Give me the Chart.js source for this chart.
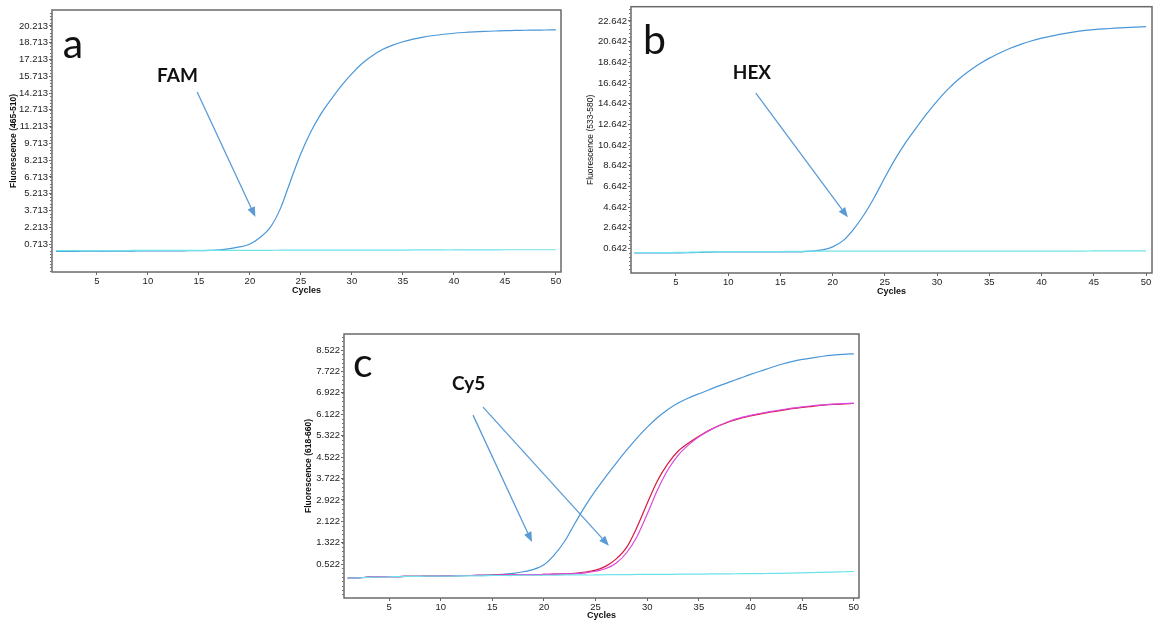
<!DOCTYPE html>
<html>
<head>
<meta charset="utf-8">
<script src="https://cdn.jsdelivr.net/npm/chart.js@4"></script>
<style>
  body { margin: 0; background: #fff; width: 1155px; height: 621px; overflow: hidden; }
  .panel { position: absolute; }
</style>
</head>
<body>
<div class="panel" style="left:0;top:0;width:575px;height:300px"><canvas id="chartA"></canvas></div>
<div class="panel" style="left:580px;top:0;width:575px;height:300px"><canvas id="chartB"></canvas></div>
<div class="panel" style="left:290px;top:325px;width:580px;height:296px"><canvas id="chartC"></canvas></div>
<script>
// DATA
const cycles = [1,2,3,4,5,6,7,8,9,10,11,12,13,14,15,16,17,18,19,20,21,22,23,24,25,
  26,27,28,29,30,31,32,33,34,35,36,37,38,39,40,41,42,43,44,45,46,47,48,49,50];
const xTicks = [5,10,15,20,25,30,35,40,45,50];

// panel a - FAM
const famCurve = [0.05,0.06,0.06,0.07,0.07,0.08,0.08,0.08,0.09,0.09,0.09,0.1,0.1,0.11,0.12,
  0.15,0.2,0.3,0.45,0.72,1.3,2.2,3.9,6.4,8.8,10.8,12.4,13.7,14.9,15.95,
  16.85,17.55,18.1,18.5,18.8,19.03,19.22,19.36,19.47,19.56,19.63,19.68,19.72,19.76,19.79,19.81,19.83,19.84,19.85,19.86];
const famNeg = [0.12,0.12,0.12,0.12,0.13,0.13,0.13,0.13,0.14,0.14,0.14,0.14,0.15,0.15,0.15,
  0.15,0.15,0.15,0.15,0.15,0.15,0.15,0.16,0.16,0.16,0.16,0.16,0.16,0.16,0.16,
  0.17,0.17,0.17,0.17,0.17,0.18,0.18,0.18,0.18,0.18,0.19,0.19,0.19,0.19,0.2,0.2,0.2,0.2,0.2,0.2];
const famTicks = [0.713,2.213,3.713,5.213,6.713,8.213,9.713,11.213,12.713,14.213,15.713,17.213,18.713,20.213];

// panel b - HEX
const hexCurve = [0.22,0.22,0.22,0.22,0.22,0.23,0.25,0.29,0.3,0.3,0.3,0.3,0.3,0.3,0.3,
  0.3,0.32,0.38,0.5,0.8,1.4,2.5,3.9,5.6,7.5,9.3,10.9,12.3,13.65,14.9,
  16.0,16.95,17.75,18.45,19.05,19.55,20.0,20.38,20.7,20.98,21.2,21.4,21.56,21.7,21.8,21.88,21.94,21.99,22.04,22.1];
const hexNeg = [0.25,0.25,0.25,0.25,0.26,0.27,0.29,0.32,0.34,0.35,0.35,0.35,0.35,0.35,0.35,
  0.36,0.37,0.38,0.38,0.38,0.38,0.38,0.38,0.38,0.38,0.38,0.38,0.38,0.38,0.38,
  0.38,0.38,0.38,0.38,0.38,0.38,0.38,0.38,0.38,0.38,0.39,0.39,0.39,0.39,0.4,0.4,0.4,0.4,0.4,0.4];
const hexTicks = [0.642,2.642,4.642,6.642,8.642,10.642,12.642,14.642,16.642,18.642,20.642,22.642];

// panel c - Cy5
const cy5Blue = [0.0,0.01,0.04,0.05,0.06,0.06,0.07,0.07,0.08,0.08,0.09,0.09,0.1,0.11,0.12,
  0.14,0.18,0.24,0.33,0.5,0.87,1.38,2.05,2.7,3.28,3.8,4.3,4.78,5.23,5.64,
  6.0,6.3,6.54,6.73,6.89,7.04,7.19,7.33,7.47,7.61,7.74,7.87,7.99,8.09,8.17,8.23,8.29,8.33,8.36,8.38];
const cy5Red = [0.0,0.01,0.04,0.05,0.06,0.06,0.07,0.07,0.08,0.08,0.09,0.1,0.1,0.11,0.11,
  0.12,0.12,0.13,0.13,0.14,0.15,0.16,0.18,0.23,0.3,0.45,0.72,1.15,1.9,2.8,
  3.65,4.28,4.75,5.05,5.3,5.52,5.7,5.85,5.97,6.06,6.14,6.21,6.27,6.33,6.38,6.42,6.46,6.49,6.51,6.53];
const cy5Magenta = [0.0,0.01,0.04,0.05,0.06,0.06,0.07,0.07,0.08,0.08,0.09,0.1,0.1,0.11,0.11,
  0.12,0.12,0.13,0.13,0.14,0.15,0.16,0.17,0.2,0.26,0.36,0.57,0.95,1.55,2.4,
  3.3,4.05,4.6,4.98,5.28,5.52,5.71,5.87,5.99,6.08,6.16,6.23,6.29,6.35,6.4,6.44,6.47,6.5,6.52,6.53];
const cy5Neg = [0.0,0.01,0.03,0.04,0.05,0.06,0.07,0.07,0.08,0.08,0.08,0.09,0.09,0.09,0.1,
  0.1,0.1,0.11,0.11,0.11,0.11,0.12,0.12,0.12,0.12,0.13,0.13,0.13,0.14,0.14,
  0.14,0.14,0.15,0.15,0.15,0.16,0.16,0.16,0.17,0.17,0.17,0.18,0.18,0.19,0.2,0.21,0.22,0.23,0.24,0.25];
const cy5Ticks = [0.522,1.322,2.122,2.922,3.722,4.522,5.322,6.122,6.922,7.722,8.522];

// COLOURS
const blue = '#4a97d8';
const cyan = '#6fe3ea';
const red = '#d8183c';
const magenta = '#dc48dc';
const arrowColor = '#5b9bd5';
const frameColor = '#6a6a6a';

const pts = arr => arr.map((v, i) => ({ x: cycles[i], y: v }));

// frame, minor ticks, letter, dye label and arrows
const decor = {
  id: 'decor',
  afterDraw(chart, args, opts) {
    const { ctx, chartArea: a, scales: { x, y } } = chart;
    ctx.save();
    // frame
    ctx.strokeStyle = frameColor;
    ctx.lineWidth = 1.5;
    ctx.strokeRect(a.left, a.top, a.right - a.left, a.bottom - a.top);
    // minor ticks on y
    ctx.strokeStyle = '#777';
    ctx.lineWidth = 1;
    const step = opts.step / 5;
    for (let v = opts.first - 2 * opts.step; v <= y.max; v += step) {
      if (v < y.min) continue;
      const py = Math.round(y.getPixelForValue(v)) + 0.5;
      ctx.beginPath();
      ctx.moveTo(a.left - 2, py);
      ctx.lineTo(a.left, py);
      ctx.stroke();
    }
    // panel letter
    ctx.fillStyle = '#111';
    ctx.textBaseline = 'alphabetic';
    ctx.font = '41px Lato';
    ctx.fillText(opts.letter.text, x.getPixelForValue(opts.letter.x), y.getPixelForValue(opts.letter.y));
    // dye name
    ctx.font = 'bold 19px Lato';
    ctx.fillText(opts.dye.text, x.getPixelForValue(opts.dye.x), y.getPixelForValue(opts.dye.y));
    // arrows
    ctx.strokeStyle = arrowColor;
    ctx.fillStyle = arrowColor;
    ctx.lineWidth = 1.3;
    opts.arrows.forEach(([x1, y1, x2, y2]) => {
      const px1 = x.getPixelForValue(x1), py1 = y.getPixelForValue(y1);
      const px2 = x.getPixelForValue(x2), py2 = y.getPixelForValue(y2);
      const ang = Math.atan2(py2 - py1, px2 - px1);
      const len = 10, half = 4;
      const bx = px2 - len * Math.cos(ang), by = py2 - len * Math.sin(ang);
      ctx.beginPath();
      ctx.moveTo(px1, py1);
      ctx.lineTo(bx, by);
      ctx.stroke();
      ctx.beginPath();
      ctx.moveTo(px2, py2);
      ctx.lineTo(bx + half * Math.sin(ang), by - half * Math.cos(ang));
      ctx.lineTo(bx - half * Math.sin(ang), by + half * Math.cos(ang));
      ctx.closePath();
      ctx.fill();
    });
    ctx.restore();
  }
};

function line(data, color) {
  return {
    data: pts(data),
    borderColor: color,
    borderWidth: 1.2,
    pointRadius: 0,
    fill: false,
    tension: 0.3
  };
}

function makeChart(id, cfg) {
  const tickFont = { family: 'Liberation Sans, Arial', size: 9.5 };
  return new Chart(document.getElementById(id), {
    type: 'line',
    data: { datasets: cfg.datasets },
    plugins: [decor],
    options: {
      responsive: true,
      maintainAspectRatio: false,
      animation: false,
      events: [],
      layout: { padding: cfg.padding },
      plugins: {
        legend: { display: false },
        tooltip: { enabled: false },
        decor: cfg.decor
      },
      scales: {
        x: {
          type: 'linear',
          min: cfg.xMin, max: cfg.xMax,
          afterBuildTicks: s => { s.ticks = xTicks.map(v => ({ value: v })); },
          afterFit: s => { s.height = cfg.xHeight; },
          ticks: { font: tickFont, color: '#222', padding: 1, maxRotation: 0, autoSkip: false },
          grid: { drawOnChartArea: false, tickLength: 3, color: '#666' },
          border: { display: false },
          title: {
            display: true, text: 'Cycles', color: '#111',
            font: { family: 'Liberation Sans, Arial', size: 9, weight: 'bold' },
            padding: { top: 0, bottom: cfg.xTitlePad }
          }
        },
        y: {
          min: cfg.yMin, max: cfg.yMax,
          afterBuildTicks: s => { s.ticks = cfg.yTicks.map(v => ({ value: v })); },
          afterFit: s => { s.width = cfg.yWidth; },
          ticks: { font: tickFont, color: '#222', padding: 1, autoSkip: false, callback: v => v.toFixed(3) },
          grid: { drawOnChartArea: false, tickLength: 3, color: '#666' },
          border: { display: false },
          title: {
            display: true, text: cfg.yTitle, color: '#111',
            font: { family: 'Liberation Sans, Arial', size: 8.5, weight: cfg.yTitleWeight },
            padding: { top: cfg.yTitlePad, bottom: 0 }
          }
        }
      }
    }
  });
}

makeChart('chartA', {
  datasets: [line(famNeg, cyan), line(famCurve, blue)],
  padding: { top: 10, right: 14, left: 0, bottom: 0 },
  xMin: 0.6, xMax: 50.5, yMin: -1.79, yMax: 21.64,
  xHeight: 28, yWidth: 52, xTitlePad: 4, yTitlePad: 9,
  yTicks: famTicks, yTitle: 'Fluorescence (465-510)', yTitleWeight: 'bold',
  decor: {
    first: famTicks[0], step: 1.5,
    letter: { text: 'a', x: 1.66, y: 17.35 },
    dye: { text: 'FAM', x: 10.9, y: 15.2 },
    arrows: [[14.83, 14.31, 20.54, 3.13]]
  }
});

makeChart('chartB', {
  datasets: [line(hexNeg, cyan), line(hexCurve, blue)],
  padding: { top: 5, right: 3, left: 0, bottom: 0 },
  xMin: 0.7, xMax: 50.57, yMin: -1.73, yMax: 24.02,
  xHeight: 27, yWidth: 51, xTitlePad: 3, yTitlePad: 6,
  yTicks: hexTicks, yTitle: 'Fluorescence (533-580)', yTitleWeight: 'normal',
  decor: {
    first: hexTicks[0], step: 2,
    letter: { text: 'b', x: 1.84, y: 19.4 },
    dye: { text: 'HEX', x: 10.44, y: 17.0 },
    arrows: [[12.65, 15.66, 21.46, 3.65]]
  }
});

makeChart('chartC', {
  datasets: [line(cy5Neg, cyan), line(cy5Magenta, magenta), line(cy5Red, red), line(cy5Blue, blue)],
  padding: { top: 9, right: 11, left: 0, bottom: 0 },
  xMin: 0.64, xMax: 50.5, yMin: -0.74, yMax: 9.12,
  xHeight: 23, yWidth: 54, xTitlePad: 0, yTitlePad: 14,
  yTicks: cy5Ticks, yTitle: 'Fluorescence (618-660)', yTitleWeight: 'bold',
  decor: {
    first: cy5Ticks[0], step: 0.8,
    letter: { text: 'c', x: 1.52, y: 7.51 },
    dye: { text: 'Cy5', x: 11.1, y: 7.03 },
    arrows: [[13.13, 6.09, 18.84, 1.35], [14.1, 6.39, 26.29, 1.21]]
  }
});
</script>
</body>
</html>
